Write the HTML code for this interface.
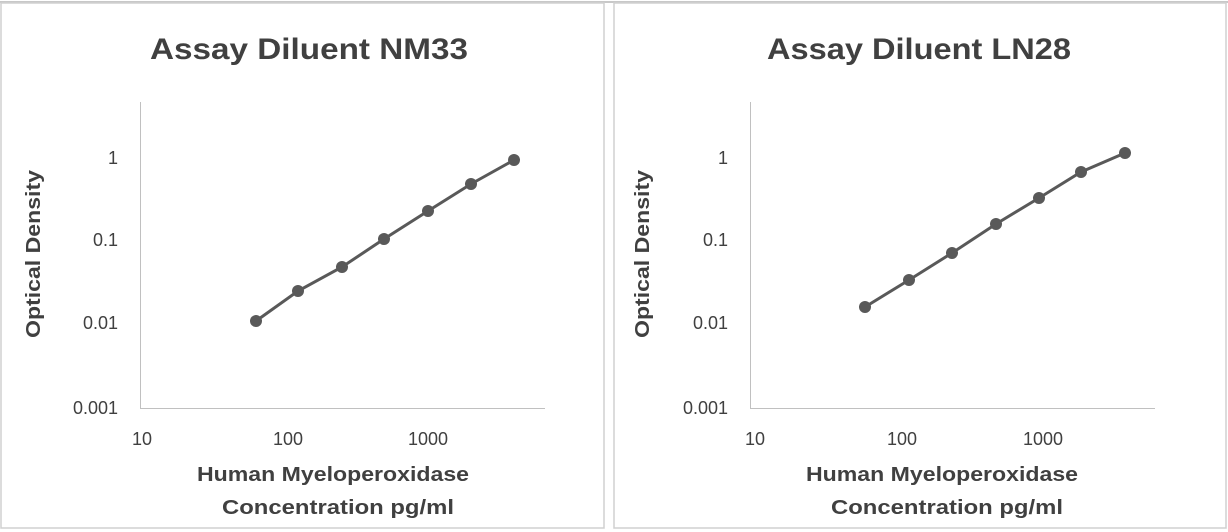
<!DOCTYPE html><html><head><style>body{margin:0;background:#fff}svg{display:block}text{font-family:"Liberation Sans",sans-serif;fill:#404040}</style></head><body>
<svg width="1228" height="532" viewBox="0 0 1228 532">
<rect x="0" y="0" width="1228" height="532" fill="#fff"/>
<line x1="0" y1="2" x2="1228" y2="2" stroke="#c8c8c8" stroke-width="2"/>
<rect x="1" y="3" width="603" height="525" fill="none" stroke="#d0d0d0" stroke-width="1.5"/>
<rect x="614" y="3" width="612" height="525" fill="none" stroke="#d0d0d0" stroke-width="1.5"/>
<g>
<text x="150" y="59" font-size="30" font-weight="bold" textLength="318" lengthAdjust="spacingAndGlyphs">Assay Diluent NM33</text>
<line x1="140.5" y1="102" x2="140.5" y2="408" stroke="#c0c0c0"/>
<line x1="140" y1="408.5" x2="545" y2="408.5" stroke="#c0c0c0"/>
<g font-size="18" text-anchor="end"><text x="118" y="164">1</text><text x="118" y="246">0.1</text><text x="118" y="329">0.01</text><text x="118" y="414">0.001</text></g>
<g font-size="18" text-anchor="middle"><text x="142" y="445">10</text><text x="288" y="445">100</text><text x="428" y="445">1000</text></g>
<text transform="translate(40,338) rotate(-90)" font-size="20" font-weight="bold" fill="#404040" textLength="168" lengthAdjust="spacingAndGlyphs">Optical Density</text>
<text x="197" y="481" font-size="20" font-weight="bold" fill="#404040" textLength="272" lengthAdjust="spacingAndGlyphs">Human Myeloperoxidase</text>
<text x="222" y="514" font-size="20" font-weight="bold" fill="#404040" textLength="232" lengthAdjust="spacingAndGlyphs">Concentration pg/ml</text>
<polyline points="256,321 298,291 342,267 384,239 428,211 471,184 514,160" fill="none" stroke="#595959" stroke-width="3"/>
<g fill="#595959"><circle cx="256" cy="321" r="6"/><circle cx="298" cy="291" r="6"/><circle cx="342" cy="267" r="6"/><circle cx="384" cy="239" r="6"/><circle cx="428" cy="211" r="6"/><circle cx="471" cy="184" r="6"/><circle cx="514" cy="160" r="6"/></g>
</g>
<g>
<text x="767" y="59" font-size="30" font-weight="bold" textLength="304" lengthAdjust="spacingAndGlyphs">Assay Diluent LN28</text>
<line x1="750.5" y1="102" x2="750.5" y2="408" stroke="#c0c0c0"/>
<line x1="750" y1="408.5" x2="1155" y2="408.5" stroke="#c0c0c0"/>
<g font-size="18" text-anchor="end"><text x="728" y="164">1</text><text x="728" y="246">0.1</text><text x="728" y="329">0.01</text><text x="728" y="414">0.001</text></g>
<g font-size="18" text-anchor="middle"><text x="755" y="445">10</text><text x="902" y="445">100</text><text x="1043" y="445">1000</text></g>
<text transform="translate(649,338) rotate(-90)" font-size="20" font-weight="bold" fill="#404040" textLength="168" lengthAdjust="spacingAndGlyphs">Optical Density</text>
<text x="806" y="481" font-size="20" font-weight="bold" fill="#404040" textLength="272" lengthAdjust="spacingAndGlyphs">Human Myeloperoxidase</text>
<text x="831" y="514" font-size="20" font-weight="bold" fill="#404040" textLength="232" lengthAdjust="spacingAndGlyphs">Concentration pg/ml</text>
<polyline points="865,307 909,280 952,253 996,224 1039,198 1081,172 1125,153" fill="none" stroke="#595959" stroke-width="3"/>
<g fill="#595959"><circle cx="865" cy="307" r="6"/><circle cx="909" cy="280" r="6"/><circle cx="952" cy="253" r="6"/><circle cx="996" cy="224" r="6"/><circle cx="1039" cy="198" r="6"/><circle cx="1081" cy="172" r="6"/><circle cx="1125" cy="153" r="6"/></g>
</g>
</svg></body></html>
